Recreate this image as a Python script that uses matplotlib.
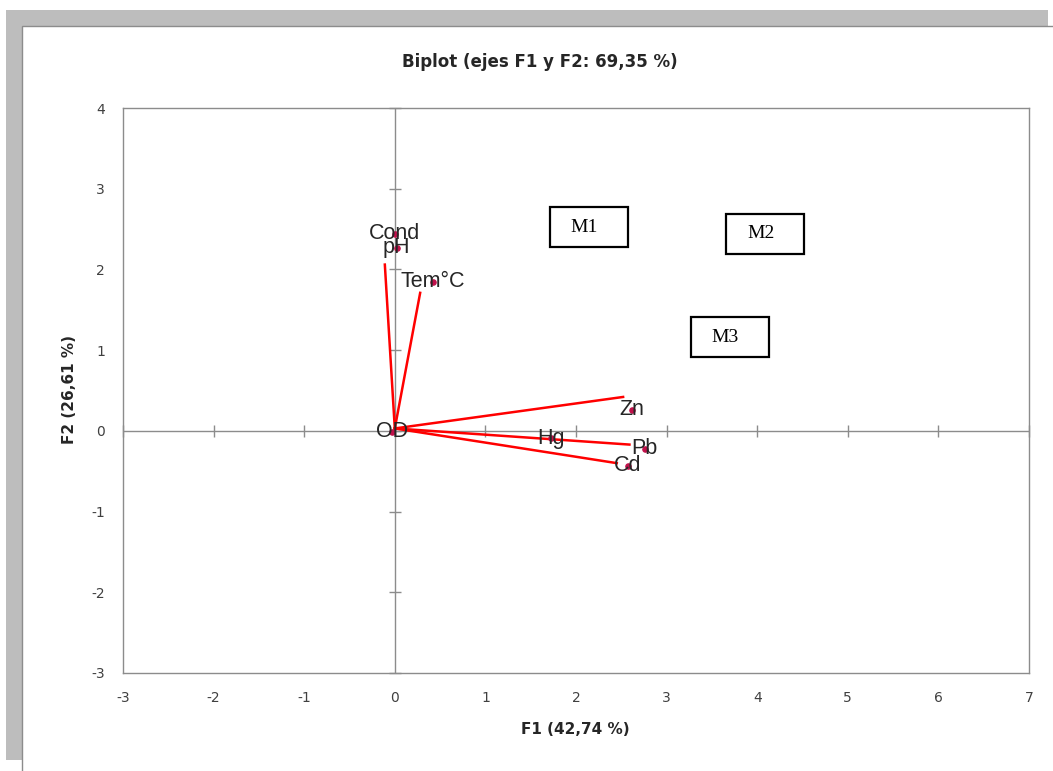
import matplotlib
matplotlib.use("Agg")
import matplotlib.pyplot as plt
from matplotlib.patches import Rectangle

plt.rcParams["axes.unicode_minus"] = False

# variables (point positions)
names = ["Cond", "pH", "Tem°C", "OD", "Hg", "Zn", "Pb", "Cd"]
f1 = [0.00, 0.02, 0.42, -0.03, 1.72, 2.62, 2.76, 2.57]
f2 = [2.44, 2.27, 1.85, -0.01, -0.09, 0.26, -0.22, -0.43]

# hand drawn red vectors from the origin
vec_x = [-0.11, 0.28, 2.52, 2.59, 2.45]
vec_y = [2.06, 1.71, 0.42, -0.17, -0.40]
origin = (0.0, 0.03)

# sample boxes
box_labels = ["M1", "M2", "M3"]
box_x = [2.14, 4.09, 3.70]
box_y = [2.52, 2.44, 1.16]

xticks = [-3, -2, -1, 0, 1, 2, 3, 4, 5, 6, 7]
yticks = [-3, -2, -1, 0, 1, 2, 3, 4]

W, H = 1053, 771
fig = plt.figure(figsize=(W / 100, H / 100), dpi=100)

# grey page border like the screenshot
fig.patches.append(Rectangle((6 / W, 11 / H), 1042 / W, 750 / H, transform=fig.transFigure,
                             facecolor="#bdbdbd", edgecolor="none", zorder=-3))
fig.patches.append(Rectangle((22 / W, -0.01), 1.1, (745 / H) + 0.01, transform=fig.transFigure,
                             facecolor="white", edgecolor="#8c8c8c", linewidth=1, zorder=-2))

ax = fig.add_axes([123 / W, 98 / H, 906 / W, 565 / H])
ax.set_xlim(-3, 7)
ax.set_ylim(-3, 4)
ax.set_xticks(xticks)
ax.set_yticks(yticks)
ax.tick_params(length=0, labelsize=10, labelcolor="#404040", pad=13)
for sp in ax.spines.values():
    sp.set_color("#8c8c8c")
    sp.set_linewidth(1)

# centre axes with small crossing ticks
ax.axhline(0, color="#8c8c8c", lw=1, zorder=1)
ax.axvline(0, color="#8c8c8c", lw=1, zorder=1)
ax.plot([0] * len(yticks), yticks, linestyle="none", marker="_", markersize=9,
        color="#8c8c8c", markeredgewidth=1, zorder=1, clip_on=False)
ax.plot(xticks, [0] * len(xticks), linestyle="none", marker="|", markersize=9,
        color="#8c8c8c", markeredgewidth=1, zorder=1, clip_on=False)

for vx, vy in zip(vec_x, vec_y):
    ax.plot([origin[0], vx], [origin[1], vy], color="red", lw=1.8, zorder=3)

ax.scatter(f1, f2, s=14, color="#c0104a", zorder=4)
for n, x, y in zip(names, f1, f2):
    ax.text(x, y, n, ha="center", va="center", fontsize=15.5, color="#262626",
            family=["Liberation Sans", "DejaVu Sans"], zorder=5)

bw, bh = 78 / 90.6, 40 / 80.7
for lab, x, y in zip(box_labels, box_x, box_y):
    ax.add_patch(Rectangle((x - bw / 2, y - bh / 2), bw, bh, facecolor="white",
                           edgecolor="black", linewidth=1.6, zorder=6))
    ax.text(x - 0.05, y, lab, ha="center", va="center", fontsize=14,
            family=["Liberation Serif", "DejaVu Serif"], zorder=7)

fig.text(540 / W, 1 - 62 / H, "Biplot (ejes F1 y F2: 69,35 %)", ha="center", va="center",
         fontsize=12, fontweight="bold", color="#262626")
fig.text(575 / W, 1 - 730 / H, "F1 (42,74 %)", ha="center", va="center",
         fontsize=11, fontweight="bold", color="#262626")
fig.text(70 / W, 1 - 390 / H, "F2 (26,61 %)", ha="center", va="center", rotation=90,
         fontsize=11, fontweight="bold", color="#262626")

fig.savefig("out.png", dpi=100, facecolor="white")
